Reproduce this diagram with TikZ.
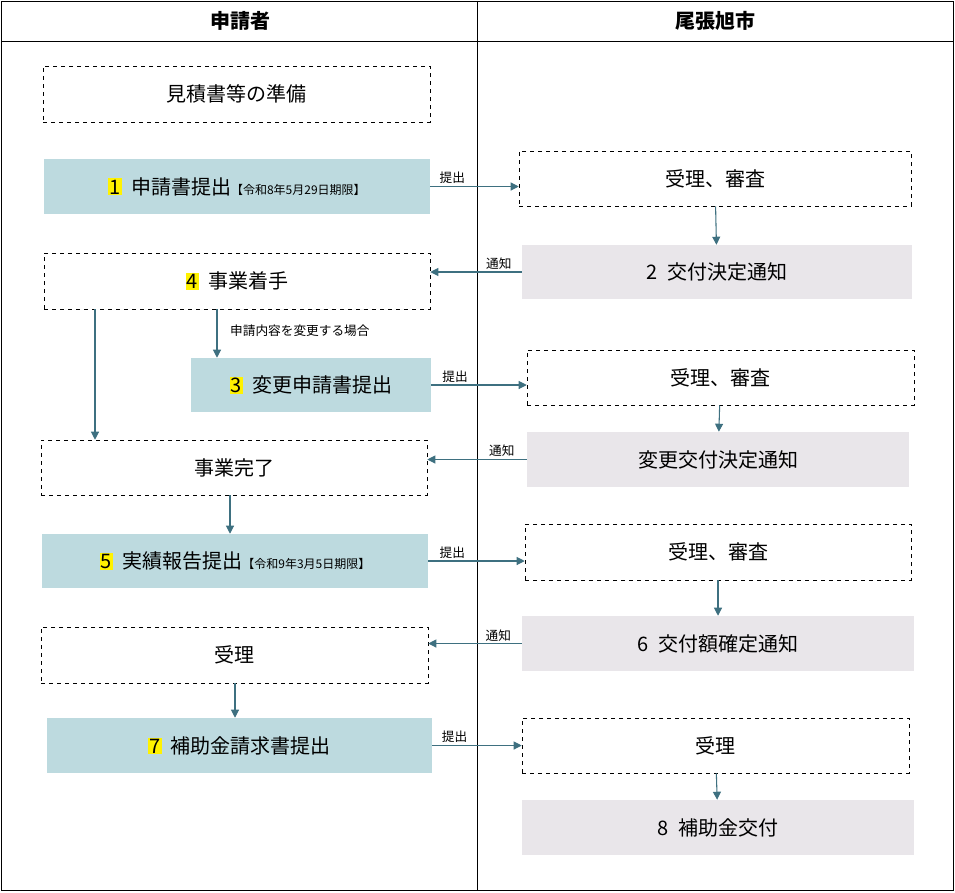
\documentclass[tikz,border=0pt]{standalone}
\usepackage{fontspec}
\setmainfont{Noto Sans CJK JP}
\usetikzlibrary{arrows.meta}
\definecolor{teal1}{HTML}{BDDADF}
\definecolor{gray1}{HTML}{E9E6EA}
\definecolor{arr}{HTML}{3E7080}
\tikzset{
	every node/.style={inner sep=0pt, font=\fontsize{15pt}{17pt}\selectfont},
	plan/.style={draw=black, dashed, thin},
	send/.style={fill=teal1},
	recv/.style={fill=gray1},
	flow/.style={draw=arr, thick, -{Triangle[length=6pt,width=6pt]}},
	tag/.style={font=\fontsize{9.5pt}{11pt}\selectfont, inner sep=1.5pt}
}
% box from (x1,y1) to (x2,y2), in pixels
\newcommand{\bx}[7]{%
	\node[#6, minimum width={(#4-#2)*0.75pt}, minimum height={(#5-#3)*0.75pt}]
	(#1) at ({(#2+#4)/2},{(#3+#5)/2}) {#7};}
\newcommand{\num}[1]{{\setlength{\fboxsep}{1pt}\colorbox{yellow}{#1}}}
\newcommand{\due}[1]{{\fontsize{9pt}{10pt}\selectfont #1}}
\begin{document}
\begin{tikzpicture}[x=0.75pt, y=-0.75pt]
	\useasboundingbox (0,0) rectangle (955,892);
	%frame
	\draw (1,1) rectangle (953,890);
	\draw (1,41) -- (953,41);
	\draw (477,1) -- (477,890);
	\node[font=\fontsize{15pt}{17pt}\selectfont\bfseries] (hA) at (240,21) {申請者};
	\node[font=\fontsize{15pt}{17pt}\selectfont\bfseries] (hB) at (715,21) {尾張旭市};
	%applicant
	\bx{prep}{43}{66}{430}{122}{plan}{見積書等の準備}
	\bx{app}{44}{159}{430}{214}{send}{\num{1}\ \ 申請書提出\due{【令和8年5月29日期限】}}
	\bx{start}{44}{253}{430}{309}{plan}{\num{4}\ \ 事業着手}
	\bx{chg}{191}{358}{431}{412}{send}{\num{3}\ \ 変更申請書提出}
	\bx{done}{41}{440}{427}{495}{plan}{事業完了}
	\bx{rep}{42}{534}{428}{588}{send}{\num{5}\ \ 実績報告提出\due{【令和9年3月5日期限】}}
	\bx{acc}{41}{627}{428}{683}{plan}{受理}
	\bx{claim}{47}{718}{432}{773}{send}{\num{7}\ \ 補助金請求書提出}
	%city
	\bx{chkA}{519}{151}{911}{206}{plan}{受理、審査}
	\bx{decA}{522}{245}{912}{299}{recv}{2\ \ 交付決定通知}
	\bx{chkB}{527}{350}{914}{405}{plan}{受理、審査}
	\bx{decB}{527}{432}{909}{487}{recv}{変更交付決定通知}
	\bx{chkC}{525}{524}{911}{580}{plan}{受理、審査}
	\bx{decC}{522}{616}{914}{671}{recv}{6\ \ 交付額確定通知}
	\bx{chkD}{522}{718}{909}{773}{plan}{受理}
	\bx{pay}{522}{800}{914}{855}{recv}{8\ \ 補助金交付}
	%submit
	\draw[flow] (app.east) -- node[tag, above, pos=0.25] {提出} (app.east -| chkA.west);
	\draw[flow] (chg.east) -- node[tag, above, pos=0.25] {提出} (chg.east -| chkB.west);
	\draw[flow] (rep.east) -- node[tag, above, pos=0.25] {提出} (rep.east -| chkC.west);
	\draw[flow] (claim.east) -- node[tag, above, pos=0.25] {提出} (claim.east -| chkD.west);
	%notify
	\draw[flow] (decA.west) -- node[tag, above, pos=0.25] {通知} (decA.west -| start.east);
	\draw[flow] (decB.west) -- node[tag, above, pos=0.25] {通知} (decB.west -| done.east);
	\draw[flow] (decC.west) -- node[tag, above, pos=0.25] {通知} (decC.west -| acc.east);
	%vertical
	\draw[flow] (chkA) -- (decA);
	\draw[flow] (chkB) -- (decB);
	\draw[flow] (chkC) -- (decC);
	\draw[flow] (chkD) -- (pay);
	\draw[flow] (start.south -| 217,0) -- node[tag, right, pos=0.45, xshift=8pt] {申請内容を変更する場合} (chg.north -| 217,0);
	\draw[flow] (start.south -| 95,0) -- (done.north -| 95,0);
	\draw[flow] (done.south -| 230,0) -- (rep.north -| 230,0);
	\draw[flow] (acc.south -| 235,0) -- (claim.north -| 235,0);
\end{tikzpicture}
\end{document}
